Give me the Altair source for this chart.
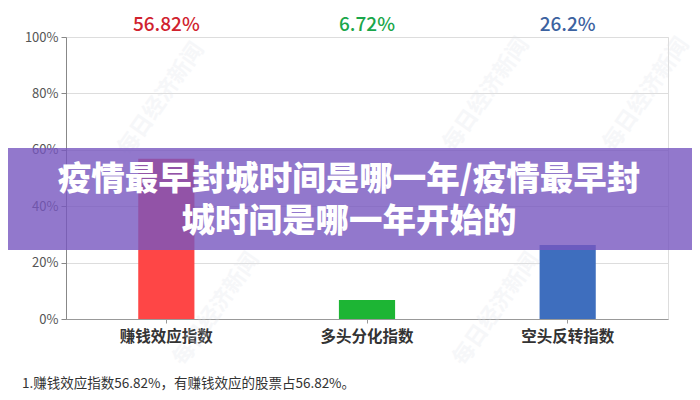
import altair as alt
import pandas as pd

categories = ["赚钱效应指数", "多头分化指数", "空头反转指数"]
values = [0.5682, 0.0672, 0.262]
labels = ["56.82%", "6.72%", "26.2%"]
colors = ["#fe4646", "#1db534", "#3e6ebe"]
label_colors = ["#d0222e", "#1aa64a", "#3c62a0"]

title_lines = ["疫情最早封城时间是哪一年/疫情最早封", "城时间是哪一年开始的"]
note = "1.赚钱效应指数56.82%，有赚钱效应的股票占56.82%。"
watermark = "每日经济新闻"

df = pd.DataFrame({"cat": categories, "val": values, "label": labels,
                   "color": colors, "lcolor": label_colors})

W, H = 602, 282
FONT = "Noto Sans CJK SC"

x_enc = alt.X("cat:N", sort=categories,
              scale=alt.Scale(paddingInner=0.72, paddingOuter=0.36),
              axis=alt.Axis(title=None, labelAngle=0, labelFontSize=15.5,
                            labelFontWeight="bold", labelColor="#333333",
                            labelFont=FONT, labelPadding=6,
                            domainColor="#999999", tickColor="#999999",
                            tickSize=4, grid=False))
y_enc = alt.Y("val:Q", scale=alt.Scale(domain=[0, 1]),
              axis=alt.Axis(title=None, format=".0%", values=[0, 0.2, 0.4, 0.6, 0.8, 1.0],
                            labelFontSize=13, labelColor="#555555", labelFont=FONT,
                            domainColor="#888888", tickColor="#888888", tickSize=5,
                            gridColor="#dddddd", labelPadding=3))

bars = alt.Chart(df).mark_bar().encode(
    x=x_enc, y=y_enc,
    color=alt.Color("color:N", scale=None, legend=None))

top_labels = alt.Chart(df).mark_text(fontSize=19, font=FONT, fontWeight=500,
                                     baseline="middle").encode(
    x=alt.X("cat:N", sort=categories,
            scale=alt.Scale(paddingInner=0.72, paddingOuter=0.36), axis=None),
    y=alt.value(-12),
    text="label:N",
    color=alt.Color("lcolor:N", scale=None, legend=None))

wm_df = pd.DataFrame({"wx": [95, 420, 580, 150, 430],
                      "wy": [220, 225, 225, 10, 10],
                      "t": [watermark] * 5})
wm = alt.Chart(wm_df).mark_text(fontSize=22, font=FONT, fontWeight="bold",
                                color="#dde1e8", opacity=0.25, angle=305).encode(
    x=alt.X("wx:Q", scale=alt.Scale(domain=[0, W]), axis=None),
    y=alt.Y("wy:Q", scale=alt.Scale(domain=[0, H]), axis=None),
    text="t:N")

note_text = alt.Chart(pd.DataFrame({"t": [note]})).mark_text(
    fontSize=13.5, font=FONT, color="#333333", align="left", baseline="middle").encode(
    x=alt.value(-44), y=alt.value(347), text="t:N")

banner = alt.Chart(pd.DataFrame({"a": [1]})).mark_rect(
    color="#7756bf", opacity=0.8).encode(
    x=alt.value(-66), x2=alt.value(634), y=alt.value(111), y2=alt.value(213))

t1 = alt.Chart(pd.DataFrame({"t": [title_lines[0]]})).mark_text(
    fontSize=33.5, font=FONT, fontWeight=900, color="white", baseline="middle").encode(
    x=alt.value(283), y=alt.value(143), text="t:N")
t2 = alt.Chart(pd.DataFrame({"t": [title_lines[1]]})).mark_text(
    fontSize=33.5, font=FONT, fontWeight=900, color="white", baseline="middle").encode(
    x=alt.value(283), y=alt.value(185), text="t:N")

chart = alt.layer(bars, top_labels, wm, note_text, banner, t1, t2).resolve_scale(
    x="independent", y="independent"
).properties(
    width=W, height=H,
    padding={"left": 58, "top": 29, "right": 24, "bottom": 76},
    autosize=alt.AutoSizeParams(type="none")
).configure_view(stroke=None).configure(background="white")

chart.save("out.html", embed_options={"renderer": "svg", "actions": False})
